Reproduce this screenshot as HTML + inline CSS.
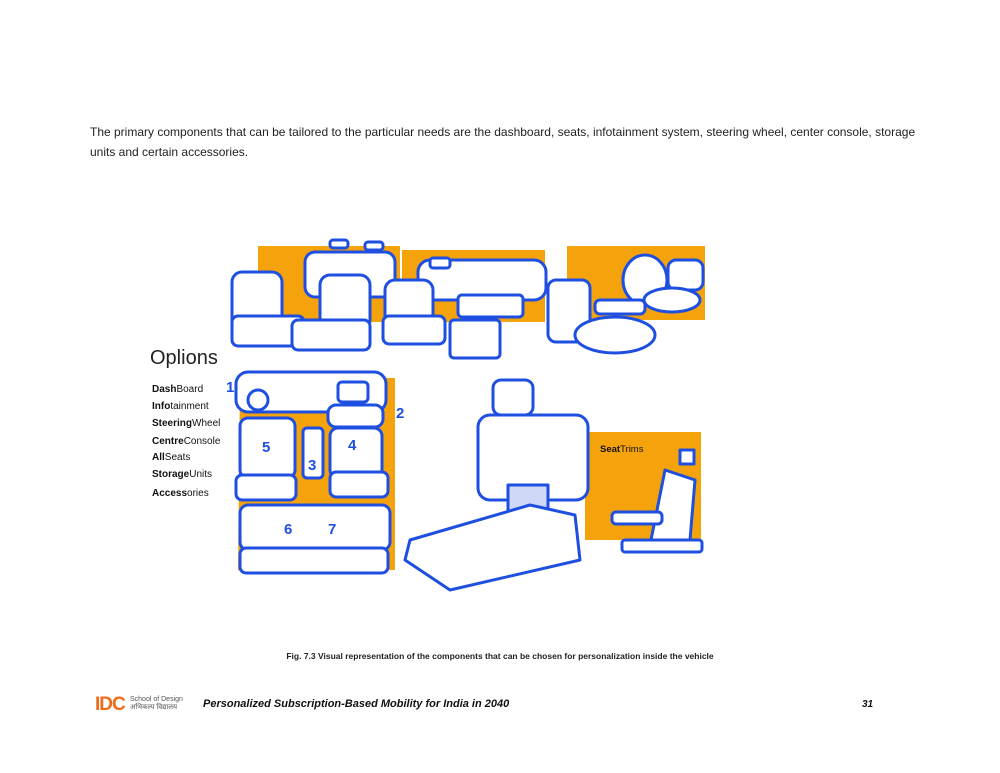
<!DOCTYPE html>
<html><head><meta charset="utf-8"><style>
body{margin:0;width:1000px;height:773px;background:#fff;font-family:"Liberation Sans",sans-serif;position:relative;overflow:hidden}
.t{position:absolute;left:90px;top:122px;width:900px;font-size:12px;line-height:20px;color:#222;white-space:nowrap}
.cap{position:absolute;left:0;width:1000px;text-align:center;top:651px;font-size:8.5px;font-weight:bold;color:#222}
.opt{position:absolute;left:152px;font-size:10px;color:#111}
.opt b{font-weight:bold}
</style></head><body>
<div class="t">The primary components that can be tailored to the particular needs are the dashboard, seats, infotainment system, steering wheel, center console, storage<br>units and certain accessories.</div>
<div style="position:absolute;left:150px;top:347px;font-size:20px;color:#222;font-family:'Liberation Sans',sans-serif">Oplions</div>
<div class="opt" style="top:384px"><b>Dash</b>Board</div>
<div class="opt" style="top:401px"><b>Info</b>tainment</div>
<div class="opt" style="top:418px"><b>Steering</b>Wheel</div>
<div class="opt" style="top:436px"><b>Centre</b>Console</div>
<div class="opt" style="top:452px"><b>All</b>Seats</div>
<div class="opt" style="top:469px"><b>Storage</b>Units</div>
<div class="opt" style="top:488px"><b>Access</b>ories</div>
<svg style="position:absolute;left:0;top:0" width="1000" height="773">
<g fill="#F5A30C">
<rect x="258" y="246" width="142" height="76"/>
<rect x="402" y="250" width="143" height="72"/>
<rect x="567" y="246" width="138" height="74"/>
<path d="M240 378 H395 V570 H238 Z"/>
<rect x="585" y="432" width="116" height="108"/>
</g>
<g fill="#fff" stroke="#1E4FE0" stroke-width="3" stroke-linejoin="round">
<rect x="305" y="252" width="90" height="45" rx="10"/>
<rect x="232" y="272" width="50" height="60" rx="10"/>
<rect x="232" y="316" width="72" height="30" rx="6"/>
<rect x="320" y="275" width="50" height="55" rx="10"/>
<rect x="292" y="320" width="78" height="30" rx="6"/>
<rect x="330" y="240" width="18" height="8" rx="3"/>
<rect x="365" y="242" width="18" height="8" rx="3"/>
<rect x="418" y="260" width="128" height="40" rx="12"/>
<rect x="385" y="280" width="48" height="55" rx="10"/>
<rect x="383" y="316" width="62" height="28" rx="6"/>
<rect x="458" y="295" width="65" height="22" rx="4"/>
<rect x="450" y="320" width="50" height="38" rx="4"/>
<rect x="430" y="258" width="20" height="10" rx="3"/>
<rect x="548" y="280" width="42" height="62" rx="8"/>
<ellipse cx="645" cy="280" rx="22" ry="25"/>
<rect x="668" y="260" width="35" height="30" rx="8"/>
<rect x="595" y="300" width="50" height="14" rx="5"/>
<ellipse cx="672" cy="300" rx="28" ry="12"/>
<ellipse cx="615" cy="335" rx="40" ry="18"/>
<rect x="236" y="372" width="150" height="40" rx="12"/>
<circle cx="258" cy="400" r="10"/>
<rect x="338" y="382" width="30" height="20" rx="4"/>
<rect x="328" y="405" width="55" height="22" rx="8"/>
<rect x="240" y="418" width="55" height="60" rx="8"/>
<rect x="236" y="475" width="60" height="25" rx="6"/>
<rect x="303" y="428" width="20" height="50" rx="4"/>
<rect x="330" y="428" width="52" height="50" rx="8"/>
<rect x="330" y="472" width="58" height="25" rx="6"/>
<rect x="240" y="505" width="150" height="45" rx="8"/>
<rect x="240" y="548" width="148" height="25" rx="6"/>
<rect x="478" y="415" width="110" height="85" rx="12"/>
<rect x="493" y="380" width="40" height="35" rx="8"/>
<rect x="508" y="485" width="40" height="30" fill="#cfd9f7"/>
<path d="M410 540 L530 505 L575 515 L580 560 L450 590 L405 560 Z"/>
<path d="M665 470 L695 480 L690 540 L650 545 Z"/>
<rect x="612" y="512" width="50" height="12" rx="4"/>
<rect x="622" y="540" width="80" height="12" rx="3"/>
<rect x="680" y="450" width="14" height="14"/>
</g>
<g fill="#1E4FE0" font-family="Liberation Sans,sans-serif" font-weight="bold" font-size="15">
<text x="226" y="392">1</text><text x="396" y="418">2</text>
<text x="308" y="470">3</text><text x="348" y="450">4</text><text x="262" y="452">5</text>
<text x="284" y="534">6</text><text x="328" y="534">7</text>
</g>
<text x="600" y="452" font-size="9.5" font-family="Liberation Sans,sans-serif" fill="#111"><tspan font-weight="bold">Seat</tspan>Trims</text>
</svg>
<div class="cap">Fig. 7.3 Visual representation of the components that can be chosen for personalization inside the vehicle</div>
<div style="position:absolute;left:95px;top:694px;font-size:19px;font-weight:bold;color:#F06A1A;letter-spacing:-1px">IDC</div>
<div style="position:absolute;left:130px;top:696px;font-size:7px;line-height:8px;color:#555">School of Design<br>अभिकल्प विद्यालय</div>
<div style="position:absolute;left:203px;top:698px;font-size:11px;font-weight:bold;font-style:italic;color:#111">Personalized Subscription-Based Mobility for India in 2040</div>
<div style="position:absolute;left:862px;top:699px;font-size:10px;font-weight:bold;font-style:italic;color:#111">31</div>
</body></html>
